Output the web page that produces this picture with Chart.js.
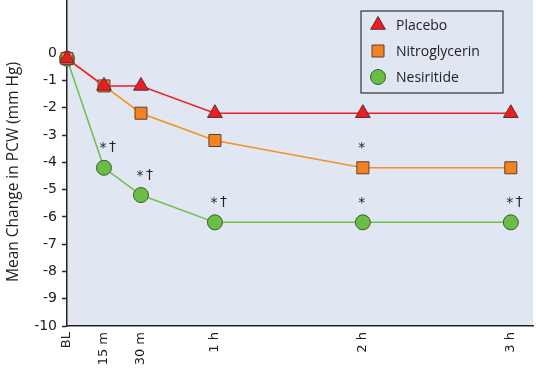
<!DOCTYPE html>
<html>
<head>
<meta charset="utf-8">
<script src="https://cdn.jsdelivr.net/npm/chart.js@4/dist/chart.umd.min.js"></script>
<style>
  html, body { margin: 0; padding: 0; background: #fff; }
  #wrap { width: 536px; height: 368px; }
</style>
</head>
<body>
<div id="wrap"><canvas id="pcwChart" width="536" height="368"></canvas></div>
<script>
// ===== DATA =====
const timesMin = [0, 15, 30, 60, 120, 180];
const timeLabels = ['BL', '15 m', '30 m', '1 h', '2 h', '3 h'];
const placebo = [-0.2, -1.2, -1.2, -2.2, -2.2, -2.2];
const nitroglycerin = [-0.2, -1.2, -2.2, -3.2, -4.2, -4.2];
const nesiritide = [-0.2, -4.2, -5.2, -6.2, -6.2, -6.2];
const yTicks = [0, -1, -2, -3, -4, -5, -6, -7, -8, -9, -10];
const yTitle = 'Mean Change in PCW (mm Hg)';

// significance marks: series, time index, text
const sigMarks = [
  { series: 'nesiritide', idx: 1, text: '*†' },
  { series: 'nesiritide', idx: 2, text: '*†' },
  { series: 'nesiritide', idx: 3, text: '*†' },
  { series: 'nesiritide', idx: 4, text: '*' },
  { series: 'nesiritide', idx: 5, text: '*†' },
  { series: 'nitroglycerin', idx: 4, text: '*' }
];

const seriesValues = { placebo, nitroglycerin, nesiritide };
const toPoints = arr => arr.map((v, i) => ({ x: timesMin[i], y: v }));

// ===== PLUGINS =====
const plotBg = {
  id: 'plotBg',
  beforeDraw(chart) {
    const { ctx, chartArea: a } = chart;
    ctx.save();
    ctx.fillStyle = '#e1e7f2';
    ctx.fillRect(a.left, a.top, a.right - a.left, a.bottom - a.top);
    ctx.restore();
  }
};

// y axis title, sits a bit lower than the axis centre in the original
const yTitlePlugin = {
  id: 'yTitle',
  afterDraw(chart) {
    const { ctx } = chart;
    ctx.save();
    ctx.translate(14, 172);
    ctx.rotate(-Math.PI / 2);
    ctx.font = '15.5px "Open Sans"';
    ctx.fillStyle = '#222';
    ctx.textAlign = 'center';
    ctx.textBaseline = 'middle';
    ctx.fillText(yTitle, 0, 0);
    ctx.restore();
  }
};

const sigPlugin = {
  id: 'sigMarks',
  afterDatasetsDraw(chart) {
    const { ctx, scales } = chart;
    ctx.save();
    ctx.fillStyle = '#222';
    ctx.font = '14px "DejaVu Sans"';
    ctx.textBaseline = 'middle';
    sigMarks.forEach(m => {
      const px = scales.x.getPixelForValue(timesMin[m.idx]);
      const py = scales.y.getPixelForValue(seriesValues[m.series][m.idx]);
      // star centred over the point, dagger after it
      ctx.textAlign = 'center';
      ctx.fillText('*', px - 1, py - 19);
      if (m.text.length > 1) {
        ctx.textAlign = 'left';
        ctx.fillText('†', px + 5, py - 20);
      }
    });
    ctx.restore();
  }
};

const boxLegend = {
  id: 'boxLegend',
  afterDraw(chart) {
    const { ctx } = chart;
    const bx = 361, by = 11, bw = 142, bh = 82;
    ctx.save();
    ctx.strokeStyle = '#333';
    ctx.lineWidth = 1.2;
    ctx.strokeRect(bx, by, bw, bh);
    ctx.font = '14px "Open Sans"';
    ctx.textBaseline = 'middle';
    chart.data.datasets.forEach((ds, i) => {
      const y = by + 14 + i * 26;
      ctx.fillStyle = ds.pointBackgroundColor;
      ctx.strokeStyle = ds.pointBorderColor;
      ctx.lineWidth = 1;
      Chart.helpers.drawPoint(ctx, { pointStyle: ds.pointStyle, radius: ds.pointRadius, borderWidth: 1 }, 378, y);
      ctx.fillStyle = '#222';
      ctx.fillText(ds.label, 396, y + 1);
    });
    ctx.restore();
  }
};

// ===== CHART =====
const ctx = document.getElementById('pcwChart').getContext('2d');
new Chart(ctx, {
  type: 'line',
  data: {
    datasets: [
      {
        label: 'Placebo',
        data: toPoints(placebo),
        borderColor: '#ec2027',
        borderWidth: 1.5,
        pointStyle: 'triangle',
        pointRadius: 8.5,
        pointBackgroundColor: '#ed1c24',
        pointBorderColor: '#5a3030',
        pointBorderWidth: 1,
        tension: 0,
        clip: false
      },
      {
        label: 'Nitroglycerin',
        data: toPoints(nitroglycerin),
        borderColor: '#f7901e',
        borderWidth: 1.5,
        pointStyle: 'rect',
        pointRadius: 8.5,
        pointBackgroundColor: '#f58220',
        pointBorderColor: '#5a4030',
        pointBorderWidth: 1,
        tension: 0,
        clip: false
      },
      {
        label: 'Nesiritide',
        data: toPoints(nesiritide),
        borderColor: '#6cbf4a',
        borderWidth: 1.5,
        pointStyle: 'circle',
        pointRadius: 7.5,
        pointBackgroundColor: '#6abd45',
        pointBorderColor: '#3d5a30',
        pointBorderWidth: 1,
        tension: 0,
        clip: false
      }
    ]
  },
  options: {
    responsive: false,
    animation: false,
    layout: { autoPadding: false, padding: { top: 0, right: 3, left: 0, bottom: 0 } },
    plugins: {
      legend: { display: false },
      tooltip: { enabled: false }
    },
    scales: {
      x: {
        type: 'linear',
        min: 0,
        max: 189,
        afterBuildTicks: scale => { scale.ticks = timesMin.map(v => ({ value: v })); },
        afterFit: scale => {
          scale.height = 42;
          scale.paddingLeft = 0;
          scale.paddingRight = 0;
        },
        grid: { display: false, drawTicks: false },
        border: { display: true, color: '#222', width: 1.5 },
        ticks: {
          minRotation: 90,
          maxRotation: 90,
          padding: 6,
          color: '#222',
          font: { family: 'DejaVu Sans', size: 13 },
          callback: (value, index) => timeLabels[index]
        }
      },
      y: {
        min: -10,
        max: 1.95,
        afterBuildTicks: scale => { scale.ticks = yTicks.map(v => ({ value: v })); },
        afterFit: scale => {
          scale.width = 67;
          scale.paddingTop = 0;
          scale.paddingBottom = 0;
        },
        grid: {
          display: true,
          drawOnChartArea: false,
          drawTicks: true,
          tickLength: 5,
          tickWidth: 1.5,
          tickColor: '#222'
        },
        border: { display: true, color: '#222', width: 1.5 },
        ticks: {
          padding: 5,
          color: '#222',
          font: { family: 'DejaVu Sans', size: 14 },
          callback: v => String(v)
        },
        title: { display: false }
      }
    }
  },
  plugins: [plotBg, yTitlePlugin, sigPlugin, boxLegend]
});
</script>
</body>
</html>
